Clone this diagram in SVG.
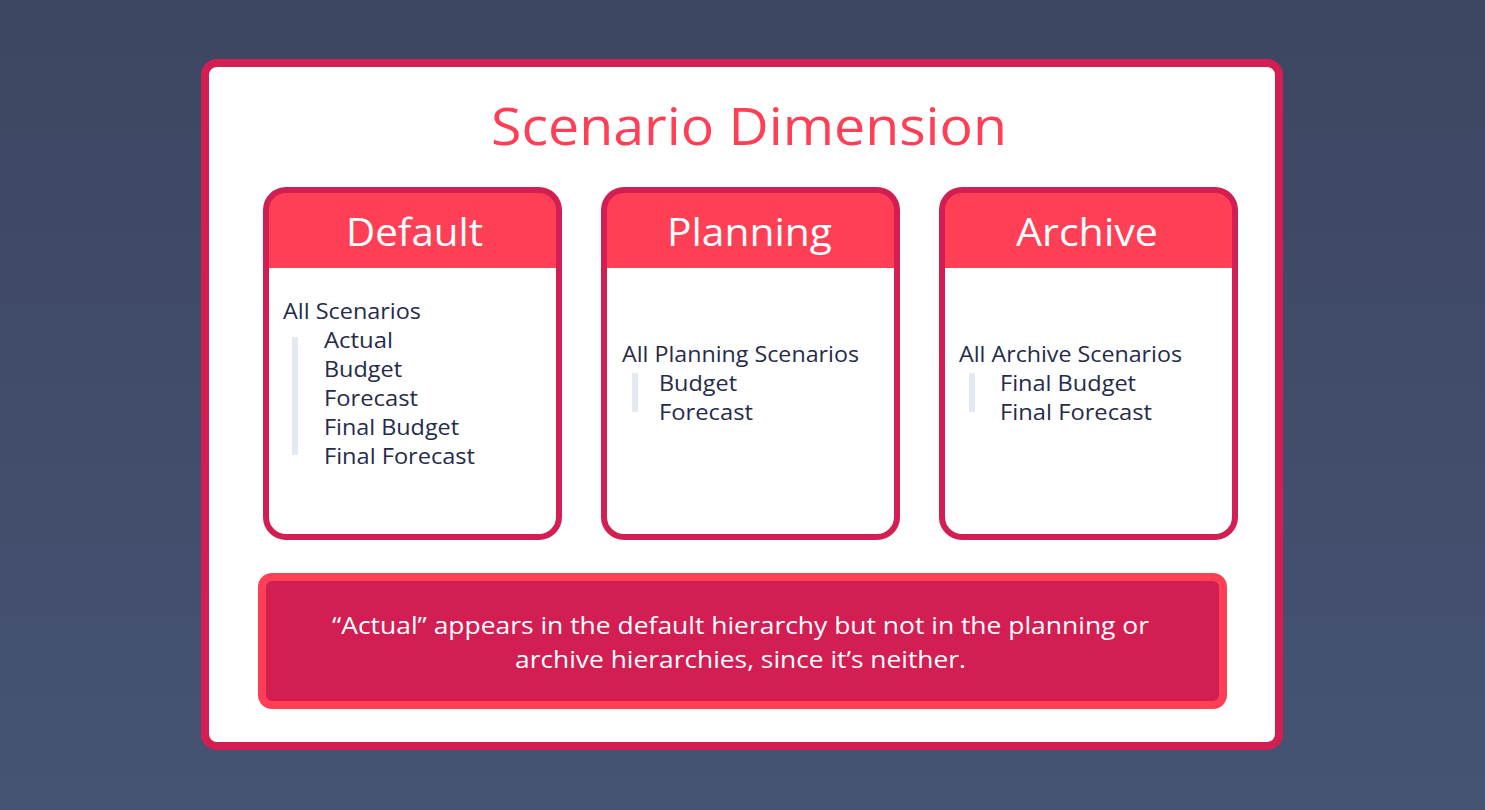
<svg xmlns="http://www.w3.org/2000/svg" width="1485" height="810" viewBox="0 0 1485 810">
<defs>
<linearGradient id="bg" x1="0" y1="0" x2="0" y2="1">
<stop offset="0" stop-color="#3d4661"/>
<stop offset="1" stop-color="#465373"/>
</linearGradient>
<clipPath id="c1"><rect x="266" y="190" width="293" height="347" rx="20"/></clipPath>
<clipPath id="c2"><rect x="604" y="190" width="293" height="347" rx="20"/></clipPath>
<clipPath id="c3"><rect x="942" y="190" width="293" height="347" rx="20"/></clipPath>
</defs>
<style>
text{font-family:"Open Sans","Liberation Sans",sans-serif}
.card{fill:none;stroke:#d31e53;stroke-width:6}
.hdr{fill:#ff3f55}
.htxt{font-size:38px;fill:#fff;text-anchor:middle;font-weight:500}
.item{font-size:21px;fill:#262b4a}
.bar{fill:#e3e8f2}
.note{font-size:24px;fill:#fff;text-anchor:middle}
</style>
<rect width="1485" height="810" fill="url(#bg)"/>
<g id="frame">
<rect x="205" y="63" width="1074" height="683" rx="12" fill="#fff" stroke="#d31e53" stroke-width="8"/>
<text x="749" y="145" text-anchor="middle" font-size="51" font-weight="500" fill="#ff3f55" textLength="516" lengthAdjust="spacingAndGlyphs">Scenario Dimension</text>
</g>
<g id="default">
<rect x="266" y="190" width="293" height="347" rx="20" fill="#fff"/>
<rect x="266" y="190" width="293" height="78" class="hdr" clip-path="url(#c1)"/>
<rect x="266" y="190" width="293" height="347" rx="20" class="card"/>
<text x="414.5" y="246" class="htxt" textLength="137" lengthAdjust="spacingAndGlyphs">Default</text>
<text x="283" y="319" class="item" textLength="138" lengthAdjust="spacingAndGlyphs">All Scenarios</text>
<rect x="292" y="337" width="6" height="118" class="bar"/>
<text x="324" y="348" class="item" textLength="69" lengthAdjust="spacingAndGlyphs">Actual</text>
<text x="324" y="377" class="item" textLength="78" lengthAdjust="spacingAndGlyphs">Budget</text>
<text x="324" y="406" class="item" textLength="94" lengthAdjust="spacingAndGlyphs">Forecast</text>
<text x="324" y="435" class="item" textLength="135" lengthAdjust="spacingAndGlyphs">Final Budget</text>
<text x="324" y="464" class="item" textLength="151" lengthAdjust="spacingAndGlyphs">Final Forecast</text>
</g>
<g id="planning">
<rect x="604" y="190" width="293" height="347" rx="20" fill="#fff"/>
<rect x="604" y="190" width="293" height="78" class="hdr" clip-path="url(#c2)"/>
<rect x="604" y="190" width="293" height="347" rx="20" class="card"/>
<text x="749.5" y="246" class="htxt" textLength="165" lengthAdjust="spacingAndGlyphs">Planning</text>
<text x="622" y="362" class="item" textLength="237" lengthAdjust="spacingAndGlyphs">All Planning Scenarios</text>
<rect x="632" y="373" width="6" height="39" class="bar"/>
<text x="659" y="391" class="item" textLength="78" lengthAdjust="spacingAndGlyphs">Budget</text>
<text x="659" y="420" class="item" textLength="94" lengthAdjust="spacingAndGlyphs">Forecast</text>
</g>
<g id="archive">
<rect x="942" y="190" width="293" height="347" rx="20" fill="#fff"/>
<rect x="942" y="190" width="293" height="78" class="hdr" clip-path="url(#c3)"/>
<rect x="942" y="190" width="293" height="347" rx="20" class="card"/>
<text x="1087" y="246" class="htxt" textLength="142" lengthAdjust="spacingAndGlyphs">Archive</text>
<text x="959" y="362" class="item" textLength="223" lengthAdjust="spacingAndGlyphs">All Archive Scenarios</text>
<rect x="969" y="373" width="6" height="39" class="bar"/>
<text x="1000" y="391" class="item" textLength="136" lengthAdjust="spacingAndGlyphs">Final Budget</text>
<text x="1000" y="420" class="item" textLength="152" lengthAdjust="spacingAndGlyphs">Final Forecast</text>
</g>
<g id="note">
<rect x="262" y="577" width="961" height="128" rx="10" fill="#d31e53" stroke="#ff3f55" stroke-width="8"/>
<text x="740.5" y="634" class="note" textLength="817" lengthAdjust="spacingAndGlyphs">“Actual” appears in the default hierarchy but not in the planning or</text>
<text x="740.5" y="668" class="note" textLength="451" lengthAdjust="spacingAndGlyphs">archive hierarchies, since it’s neither.</text>
</g>
<g id="connectors"/>
</svg>
